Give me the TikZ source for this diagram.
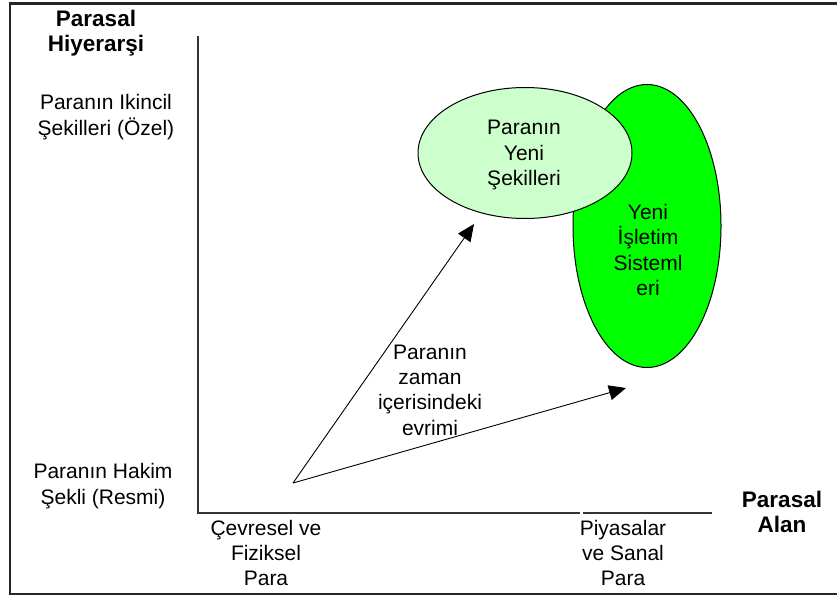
\documentclass[tikz,border=0pt]{standalone}
\usepackage{fontspec}
\setmainfont{Liberation Sans}
\usetikzlibrary{shapes.geometric,arrows.meta}
\begin{document}
\begin{tikzpicture}[x=1pt,y=-1pt,
  lbl/.style={align=center,font=\fontsize{21}{25.3}\selectfont,inner sep=0pt},
  blbl/.style={align=center,font=\fontsize{22.5}{25}\selectfont\bfseries,inner sep=0pt},
  axis/.style={line width=1.3pt,black!80},
  arr/.style={line width=0.9pt,-{Triangle[length=17pt,width=15pt]}},
  oval/.style={ellipse,draw=black,line width=1pt,inner sep=0pt}]
\useasboundingbox (0,0) rectangle (837,599);
\fill[white] (0,0) rectangle (837,599);
% frame
\draw[line width=2.6pt,black!85] (845,3.5) -- (10,3.5) -- (10,594) -- (845,594);
% axes
\coordinate (ytop) at (198,36);
\coordinate (org) at (198,513);
\coordinate (xgap1) at (580,513);
\coordinate (xgap2) at (583,513);
\coordinate (xend) at (712,513);
\draw[axis] (ytop) -- (org) -- (xgap1);
\draw[axis] (xgap2) -- (xend);
% axis labels
\node[blbl] (yt) at (96,33) {Parasal\\Hiyerarşi};
\node[lbl] (yhi) at (106,117) {Paranın Ikincil\\Şekilleri (Özel)};
\node[lbl] (ylo) at (103,486) {Paranın Hakim\\Şekli (Resmi)};
\node[blbl] (xt) at (782,512) {Parasal\\Alan};
\node[lbl] (xl) at (266,553) {Çevresel ve\\Fiziksel\\Para};
\node[lbl] (xr) at (623,553) {Piyasalar\\ve Sanal\\Para};
% ellipses
\node[oval,fill=green,minimum width=148pt,minimum height=283pt] (os) at (647,226) {};
\node[lbl] (ostxt) at (648,250) {Yeni\\İşletim\\Sisteml\\eri};
\node[oval,fill=green!20,minimum width=214pt,minimum height=131pt] (nf) at (525,153) {};
\node[lbl] (nftxt) at (524,155) {Paranın\\Yeni\\Şekilleri};
% arrows
\coordinate (start) at (293,483);
\coordinate (t1) at (474,224);
\coordinate (t2) at (626,388);
\draw[arr] (start) -- (t1);
\draw[arr] (start) -- (t2);
\node[lbl] (ev) at (430,390) {Paranın\\zaman\\içerisindeki\\evrimi};
\end{tikzpicture}
\end{document}
